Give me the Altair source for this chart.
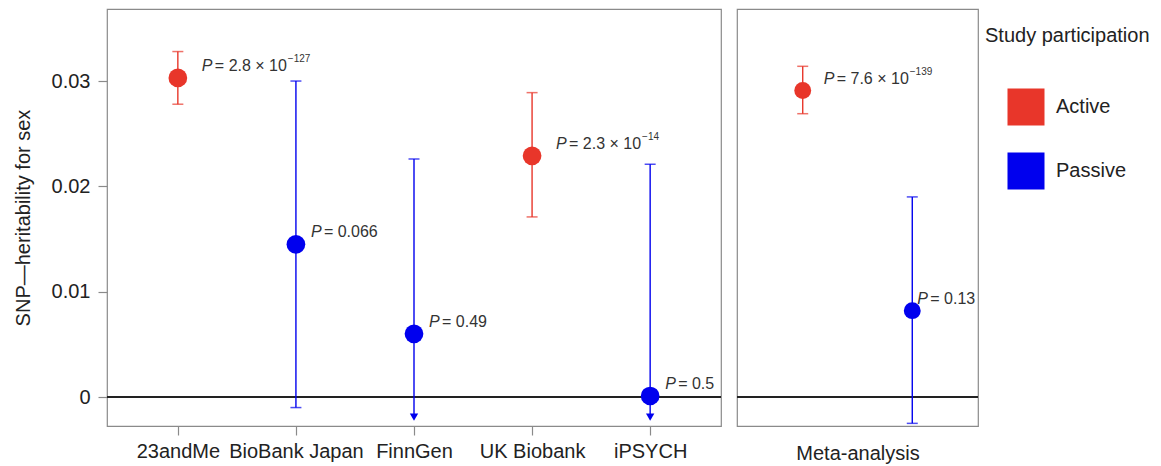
import altair as alt
import pandas as pd

# ---- data ----
studies = ["23andMe", "BioBank Japan", "FinnGen", "UK Biobank", "iPSYCH"]
study_group = ["Active", "Passive", "Passive", "Active", "Passive"]
study_est = [0.0303, 0.0145, 0.0060, 0.0229, 0.0001]
study_lo = [0.0278, -0.0010, -0.0019, 0.0171, -0.0019]
study_hi = [0.0328, 0.0300, 0.0226, 0.0289, 0.0221]
study_trunc = [False, False, True, False, True]
study_p = ["2.8 × 10", "0.066", "0.49", "2.3 × 10", "0.5"]
study_exp = ["−127", "", "", "−14", ""]

meta_group = ["Active", "Passive"]
meta_est = [0.0291, 0.0082]
meta_lo = [0.0269, -0.0025]
meta_hi = [0.0314, 0.0190]
meta_trunc = [False, False]
meta_p = ["7.6 × 10", "0.13"]
meta_exp = ["−139", ""]

y_ticks = [0, 0.01, 0.02, 0.03]
y_domain = [-0.00275, 0.03684]

RED = "#e8362a"
BLUE = "#0000ee"
FONT = "Liberation Sans"
FS = 20

left_df = pd.DataFrame({"study": studies, "group": study_group, "est": study_est,
                        "lo": study_lo, "hi": study_hi, "trunc": study_trunc,
                        "p": study_p, "exp": study_exp})
meta_df = pd.DataFrame({"group": meta_group, "est": meta_est, "lo": meta_lo,
                        "hi": meta_hi, "trunc": meta_trunc, "p": meta_p, "exp": meta_exp})
zero_df = pd.DataFrame({"z": [0.0]})

color = alt.Color("group:N", scale=alt.Scale(domain=["Active", "Passive"], range=[RED, BLUE]),
                  legend=alt.Legend(title="Study participation", orient="none",
                                    legendX=878, legendY=17,
                                    symbolType="square", symbolSize=1370,
                                    symbolStrokeWidth=0, symbolOpacity=1,
                                    symbolOffset=22, labelOffset=11,
                                    rowPadding=26, titlePadding=42,
                                    titleFontSize=FS, titleFontWeight="normal",
                                    titleColor="#222", labelFontSize=FS,
                                    labelColor="#222", titleFont=FONT, labelFont=FONT))

yscale = alt.Scale(domain=y_domain, nice=False, zero=False)


def panel(df, xfield, xaxis, xscale, w, dx_active, dx_passive, size, yaxis):
    base = alt.Chart(df)
    x = alt.X(xfield, scale=xscale, axis=xaxis, sort=None)
    y = alt.Y("est:Q", scale=yscale, axis=yaxis)
    zero = alt.Chart(zero_df).mark_rule(color="#222", strokeWidth=2).encode(
        y=alt.Y("z:Q", scale=yscale, axis=yaxis))
    bars = base.mark_rule(strokeWidth=1.4).encode(
        x=x, y=alt.Y("lo:Q", scale=yscale, axis=yaxis), y2="hi:Q", color=color)
    cap_hi = base.mark_tick(size=11, thickness=1.5).encode(
        x=x, y=alt.Y("hi:Q", scale=yscale, axis=yaxis), color=color)
    cap_lo = base.transform_filter("!datum.trunc").mark_tick(size=11, thickness=1.5).encode(
        x=x, y=alt.Y("lo:Q", scale=yscale, axis=yaxis), color=color)
    arrows = base.transform_filter("datum.trunc").mark_point(
        shape="triangle-down", filled=True, size=70, opacity=1).encode(
        x=x, y=alt.Y("lo:Q", scale=yscale, axis=yaxis), color=color)
    pts = base.mark_circle(size=size, opacity=1).encode(x=x, y=y, color=color)
    layers = [zero, bars, cap_hi, cap_lo, arrows, pts]
    for grp, dx in (("Active", dx_active), ("Passive", dx_passive)):
        sub = base.transform_filter(alt.datum.group == grp)
        layers.append(sub.mark_text(text="P", font=FONT, fontSize=16, fontStyle="italic",
                                    align="left", baseline="middle", dx=dx, dy=-12,
                                    color="#333").encode(x=x, y=y))
        layers.append(sub.transform_calculate(label="'= ' + datum.p").mark_text(
            font=FONT, fontSize=16, align="left", baseline="middle", dx=dx + 13, dy=-12,
            color="#333").encode(x=x, y=y, text="label:N"))
        layers.append(sub.transform_filter("datum.exp != ''").mark_text(
            font=FONT, fontSize=10, align="left", baseline="middle", dx=dx + 86, dy=-19,
            color="#333").encode(x=x, y=y, text="exp:N"))
    return alt.layer(*layers).properties(width=w, height=417)


left_axis_y = alt.Axis(values=y_ticks, title="SNP—heritability for sex",
                       labelExpr="datum.value == 0 ? '0' : format(datum.value, '.2f')",
                       titlePadding=18, labelPadding=8)
left = panel(left_df, "study:N",
             alt.Axis(title=None, labelAngle=0, labelPadding=6),
             alt.Scale(type="point", domain=studies, padding=0.6),
             614, 24, 15, 350, left_axis_y)
right = panel(meta_df, "group:N",
              alt.Axis(title="Meta-analysis", labels=False, ticks=False, titlePadding=17),
              alt.Scale(type="point", domain=["Active", "Passive"], padding=0.6),
              241, 21, 5, 285, None)

chart = alt.hconcat(left, right, spacing=12).resolve_scale(
    color="shared", y="independent", x="independent"
).properties(
    padding={"left": 12, "top": 8, "right": 5, "bottom": 5}
).configure_view(
    stroke="#8a8a8a", strokeWidth=1.2
).configure_axis(
    domain=False, grid=False, tickColor="#8a8a8a", tickSize=9, tickWidth=1.2,
    labelFontSize=FS, labelColor="#222", labelFont=FONT,
    titleFontSize=FS, titleFontWeight="normal", titleColor="#222", titleFont=FONT
)

chart.save("out.html", embed_options={"renderer": "svg", "actions": False})
